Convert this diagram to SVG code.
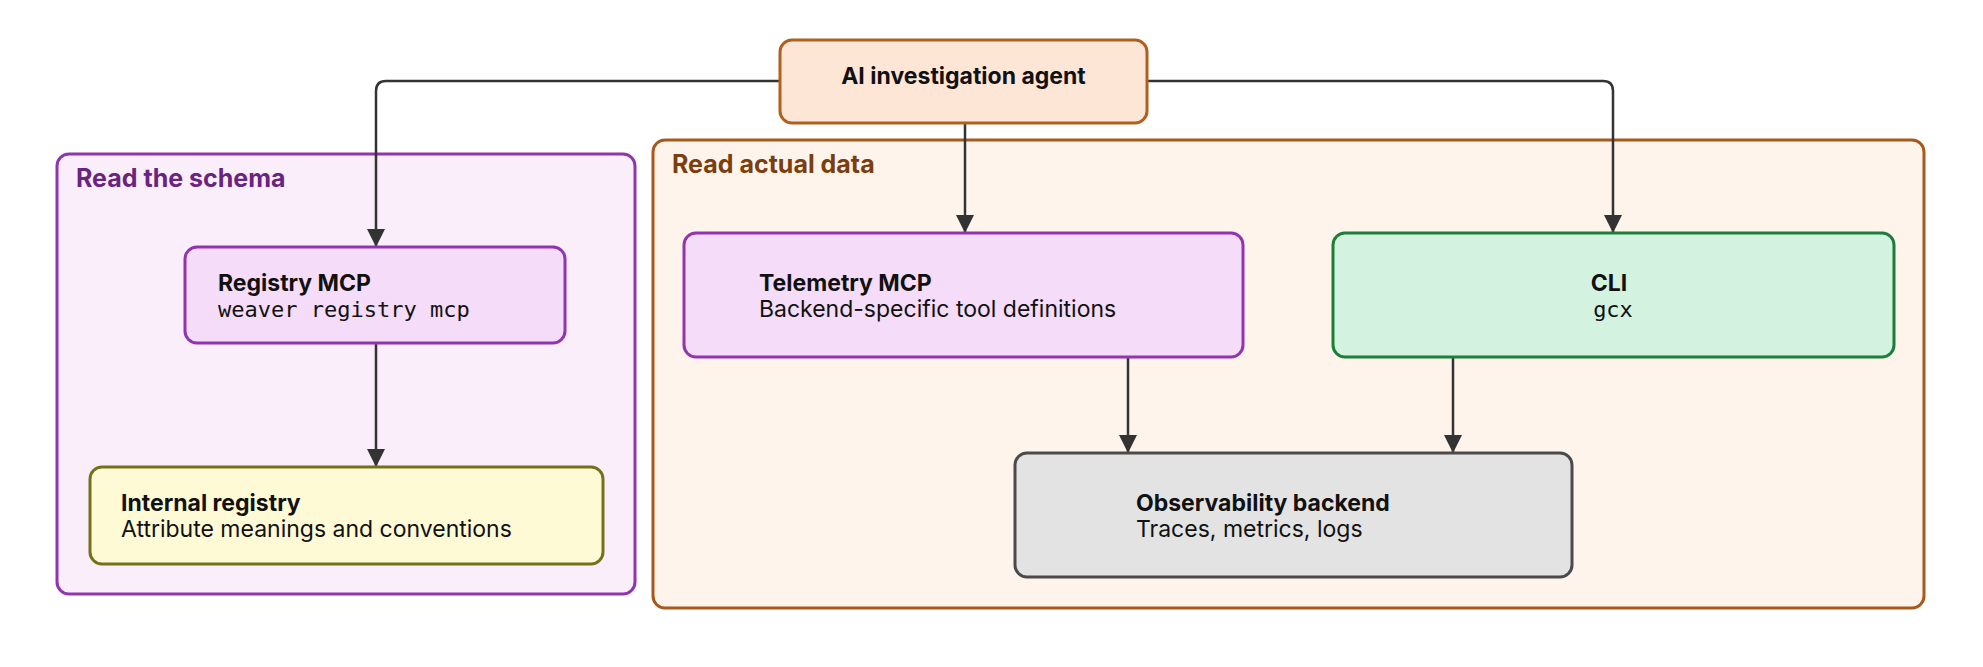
<svg xmlns="http://www.w3.org/2000/svg" width="1983" height="667" viewBox="0 0 1983 667">
<style>
text{font-family:Inter,"Noto Sans",sans-serif;font-size:23px;fill:#111}
.b{font-weight:700}
.m{font-family:"DejaVu Sans Mono","Liberation Mono",monospace;font-size:22px}
.gt{font-weight:700;font-size:25px}
.c{fill:none;stroke:#333;stroke-width:2.5}
</style>
<defs><marker id="a" viewBox="0 0 10 10" refX="10" refY="5" markerWidth="7" markerHeight="9" markerUnits="userSpaceOnUse" orient="auto"><path d="M0,0L10,5L0,10z" fill="#333"/></marker>
<marker id="ah" viewBox="0 0 10 10" refX="10" refY="5" markerWidth="24" markerHeight="18" markerUnits="userSpaceOnUse" orient="auto"><path d="M0,0L10,5L0,10z" fill="#333"/></marker></defs>
<g id="group-schema"><rect x="57" y="154" width="578" height="440" rx="12" fill="#faeefb" stroke="#9233b0" stroke-width="3"/><text class="gt" x="76" y="187" style="fill:#6b2380">Read the schema</text></g>
<g id="group-data"><rect x="653" y="140" width="1271" height="468" rx="12" fill="#fef4ec" stroke="#a8581c" stroke-width="3"/><text class="gt" x="672" y="173" style="fill:#7a3e0f">Read actual data</text></g>
<g id="connectors">
<path class="c" d="M780,81H386Q376,81 376,91V247" marker-end="url(#ah)"/>
<path class="c" d="M1147,81H1603Q1613,81 1613,91V233" marker-end="url(#ah)"/>
<path class="c" d="M965,123V233" marker-end="url(#ah)"/>
<path class="c" d="M376,343V467" marker-end="url(#ah)"/>
<path class="c" d="M1128,357V453" marker-end="url(#ah)"/>
<path class="c" d="M1453,357V453" marker-end="url(#ah)"/>
</g>
<g id="agent"><rect x="780" y="40" width="367" height="83" rx="12" fill="#fee6d6" stroke="#b0601e" stroke-width="3"/><text class="b" x="963.5" y="84" text-anchor="middle">AI investigation agent</text></g>
<g id="registry-mcp"><rect x="185" y="247" width="380" height="96" rx="12" fill="#f5dcf8" stroke="#9233b0" stroke-width="3"/><text class="b" x="218" y="291">Registry MCP</text><text class="m" x="218" y="317">weaver registry mcp</text></g>
<g id="internal-registry"><rect x="90" y="467" width="513" height="97" rx="12" fill="#fefad6" stroke="#77701a" stroke-width="3"/><text class="b" x="121" y="511">Internal registry</text><text x="121" y="537">Attribute meanings and conventions</text></g>
<g id="telemetry-mcp"><rect x="684" y="233" width="559" height="124" rx="12" fill="#f5dcf8" stroke="#9233b0" stroke-width="3"/><text class="b" x="759" y="291">Telemetry MCP</text><text x="759" y="317">Backend-specific tool definitions</text></g>
<g id="cli"><rect x="1333" y="233" width="561" height="124" rx="12" fill="#d3f2e0" stroke="#1b7f3a" stroke-width="3"/><text class="b" x="1609" y="291" text-anchor="middle">CLI</text><text class="m" x="1613" y="317" text-anchor="middle">gcx</text></g>
<g id="observability"><rect x="1015" y="453" width="557" height="124" rx="12" fill="#e3e3e3" stroke="#4a4a4a" stroke-width="3"/><text class="b" x="1136" y="511">Observability backend</text><text x="1136" y="537">Traces, metrics, logs</text></g>
</svg>
